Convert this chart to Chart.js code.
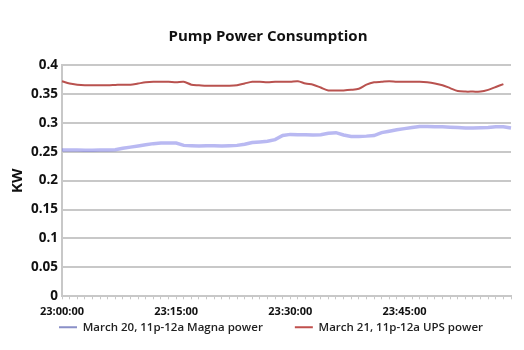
<!DOCTYPE html>
<html>
<head>
<meta charset="utf-8">
<script src="https://cdn.jsdelivr.net/npm/chart.js@4.4.1/dist/chart.umd.min.js"></script>
<style>
html,body{margin:0;padding:0;background:#fff;}
#wrap{width:524px;height:350px;}
</style>
</head>
<body>
<div id="wrap"><canvas id="c" width="524" height="350"></canvas></div>
<script>
// Categories: one per minute from 23:00:00 to 23:59:00
const startHour = 23;
const minutes = 60;
const categories = [];
for (let m = 0; m < minutes; m++) {
  categories.push(startHour + ':' + String(m).padStart(2, '0') + ':00');
}
const tickLabels = ['23:00:00', '23:15:00', '23:30:00', '23:45:00'];

const magnaPower = [
  0.253, 0.253, 0.253, 0.2525, 0.2525, 0.253, 0.253, 0.2535, 0.256, 0.258,
  0.260, 0.262, 0.264, 0.265, 0.265, 0.265, 0.261, 0.2605, 0.260, 0.2605,
  0.2605, 0.260, 0.2605, 0.261, 0.263, 0.266, 0.267, 0.268, 0.271, 0.278,
  0.280, 0.2795, 0.2795, 0.279, 0.2795, 0.282, 0.283, 0.279, 0.2765, 0.2765,
  0.277, 0.278, 0.283, 0.2855, 0.288, 0.290, 0.292, 0.2935, 0.2935, 0.293,
  0.293, 0.2925, 0.292, 0.291, 0.291, 0.2915, 0.292, 0.293, 0.293, 0.291
];
const upsPower = [
  0.372, 0.368, 0.366, 0.365, 0.365, 0.365, 0.365, 0.3655, 0.366, 0.366,
  0.368, 0.370, 0.371, 0.371, 0.371, 0.370, 0.371, 0.366, 0.365, 0.364,
  0.364, 0.364, 0.364, 0.365, 0.368, 0.371, 0.371, 0.370, 0.371, 0.371,
  0.371, 0.372, 0.368, 0.366, 0.361, 0.356, 0.356, 0.356, 0.357, 0.359,
  0.366, 0.370, 0.371, 0.372, 0.371, 0.371, 0.371, 0.371, 0.370, 0.368,
  0.365, 0.360, 0.355, 0.354, 0.354, 0.354, 0.357, 0.362, 0.367
];
const seriesNames = ['March 20, 11p-12a Magna power', 'March 21, 11p-12a UPS power'];
const legendColors = ['#8a90c8', '#c0504d'];

const FONT = '"Open Sans", "Noto Sans", sans-serif';

// small layout adjustments of the library's own title and legend boxes
const LEG_PAD = 32, LEG_TRIM = 38, LEG_SHIFT = 35, LEG_DX = 11, TITLE_DX = 8;
const nudgePlugin = {
  id: 'nudge',
  afterInit(chart) {
    const lg = chart.legend;
    if (lg) {
      const of = lg.fit;
      lg.fit = function () { of.apply(this, arguments); this.height -= LEG_TRIM; };
      const od = lg.draw;
      lg.draw = function () {
        const c = this.ctx; const t = this.top;
        this.top = t - LEG_SHIFT;
        c.save(); c.translate(LEG_DX, 0);
        od.apply(this, arguments);
        c.restore();
        this.top = t;
      };
    }
    const tb = chart.titleBlock;
    if (tb) {
      const otd = tb.draw;
      tb.draw = function () {
        const c = this.ctx; c.save(); c.translate(TITLE_DX, 0);
        otd.apply(this, arguments); c.restore();
      };
    }
  }
};

new Chart(document.getElementById('c'), {
  type: 'line',
  data: {
    labels: categories,
    datasets: [
      {
        label: seriesNames[0],
        data: magnaPower,
        borderColor: 'rgba(115,115,230,0.5)',
        borderWidth: 3.5,
        pointRadius: 0,
        tension: 0
      },
      {
        label: seriesNames[1],
        data: upsPower,
        borderColor: '#b9524f',
        borderWidth: 2,
        pointRadius: 0,
        tension: 0.3
      }
    ]
  },
  plugins: [nudgePlugin],
  options: {
    responsive: false,
    animation: false,
    layout: { padding: { left: 9, right: 13, top: 0, bottom: 10 } },
    plugins: {
      title: {
        display: true,
        text: 'Pump Power Consumption',
        color: '#111',
        font: { family: FONT, size: 15, weight: 'bold' },
        padding: { top: 28, bottom: 19 }
      },
      legend: {
        position: 'bottom',
        labels: {
          color: '#222',
          font: { family: FONT, size: 11.5, weight: '600' },
          boxWidth: 18,
          boxHeight: 0,
          padding: LEG_PAD,
          generateLabels: function (chart) {
            return chart.data.datasets.map((ds, i) => ({
              text: ds.label,
              fillStyle: legendColors[i],
              strokeStyle: legendColors[i],
              lineWidth: 2,
              hidden: false,
              datasetIndex: i,
              fontColor: '#222'
            }));
          }
        }
      },
      tooltip: { enabled: false }
    },
    scales: {
      x: {
        type: 'category',
        offset: false,
        grid: {
          display: true,
          drawOnChartArea: false,
          drawTicks: true,
          tickLength: 3,
          color: '#c8c8c8'
        },
        border: { color: '#c8c8c8', width: 2 },
        ticks: {
          autoSkip: false,
          maxRotation: 0,
          minRotation: 0,
          color: '#111',
          font: { family: FONT, size: 11, weight: 'bold' },
          padding: 6,
          callback: function (v, i) {
            const lab = this.getLabelForValue(v);
            return tickLabels.includes(lab) ? lab : '';
          }
        }
      },
      y: {
        min: 0,
        max: 0.4,
        grid: { color: '#c8c8c8', lineWidth: 2, drawTicks: false },
        border: { color: '#c8c8c8', width: 2 },
        ticks: {
          stepSize: 0.05,
          color: '#111',
          font: { family: FONT, size: 13.5, weight: 'bold' },
          padding: 4,
          callback: v => String(+v.toFixed(2))
        },
        title: {
          display: true,
          text: 'KW',
          color: '#111',
          font: { family: FONT, size: 15, weight: 'bold' },
          padding: { top: 0, bottom: 0 }
        }
      }
    }
  }
});
</script>
</body>
</html>
